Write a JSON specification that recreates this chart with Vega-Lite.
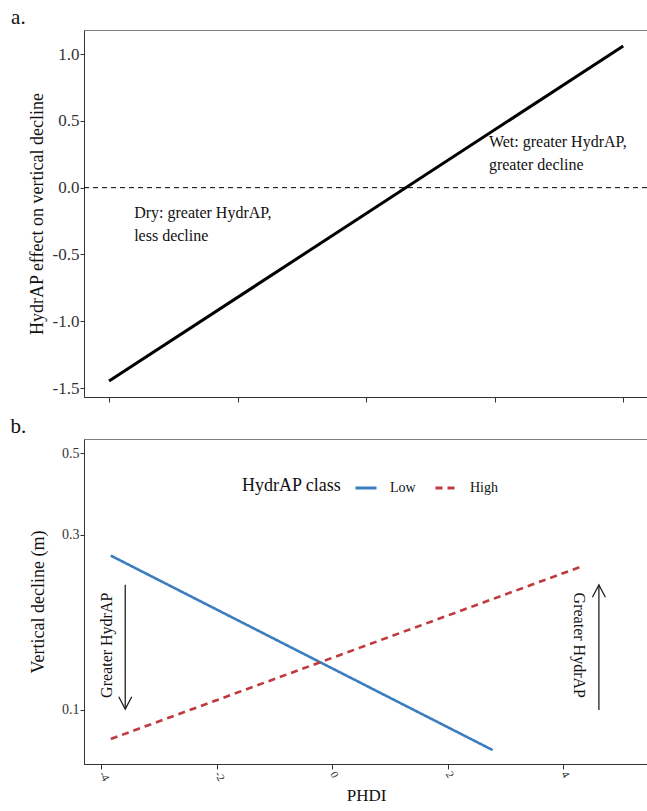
{
  "$schema": "https://vega.github.io/schema/vega-lite/v6.json",
  "padding": {"left": 10, "top": 6, "right": 0, "bottom": 0},
  "spacing": 12,
  "resolve": {"legend": {"color": "independent", "strokeDash": "independent"}},
  "config": {
    "font": "Liberation Serif",
    "view": {"stroke": "#7f7f7f", "strokeWidth": 1},
    "axis": {
      "grid": false,
      "domainColor": "#333333",
      "tickColor": "#333333",
      "labelColor": "#333333",
      "titleColor": "#111111",
      "labelFont": "Liberation Serif",
      "titleFont": "Liberation Serif",
      "titleFontWeight": "normal",
      "tickSize": 4,
      "labelPadding": 1
    },
    "legend": {
      "labelFont": "Liberation Serif",
      "titleFont": "Liberation Serif"
    }
  },
  "vconcat": [
    {
      "width": 563,
      "height": 367,
      "title": {"text": "a.", "anchor": "start", "frame": "bounds", "fontSize": 21, "fontWeight": "normal", "font": "Liberation Serif", "color": "#111111", "dx": -17, "offset": 2},
      "layer": [
        {
          "data": {"values": [{"PHDI": -4, "effect": -1.448}, {"PHDI": 4, "effect": 1.06}]},
          "mark": {"type": "line", "color": "#000000", "strokeWidth": 3},
          "encoding": {
            "x": {"field": "PHDI", "type": "quantitative", "scale": {"domain": [-4.39, 4.37], "nice": false, "zero": false},
                  "axis": {"values": [-4, -2, 0, 2, 4], "labels": false, "title": null, "tickSize": 5}},
            "y": {"field": "effect", "type": "quantitative", "scale": {"domain": [-1.567, 1.18], "nice": false, "zero": false},
                  "axis": {"values": [-1.5, -1.0, -0.5, 0.0, 0.5, 1.0], "labelExpr": "datum.value < 0 ? '-' + format(-datum.value, '.1f') : format(datum.value, '.1f')", "labelFont": "Liberation Serif", "labelFontSize": 17, "title": "HydrAP effect on vertical decline", "titleFont": "Liberation Serif", "titleFontSize": 18, "titlePadding": 6}}
          }
        },
        {
          "data": {"values": [{"zero": 0}]},
          "mark": {"type": "rule", "color": "#000000", "strokeWidth": 1, "strokeDash": [5, 4]},
          "encoding": {"y": {"field": "zero", "type": "quantitative"}}
        },
        {
          "data": {"values": [
            {"PHDI": 1.91, "effect": 0.403, "label": "Wet: greater HydrAP,\ngreater decline"},
            {"PHDI": -3.61, "effect": -0.127, "label": "Dry: greater HydrAP,\nless decline"}
          ]},
          "mark": {"type": "text", "align": "left", "baseline": "top", "fontSize": 16, "lineHeight": 23, "lineBreak": "\n", "font": "Liberation Serif", "color": "#111111"},
          "encoding": {
            "x": {"field": "PHDI", "type": "quantitative"},
            "y": {"field": "effect", "type": "quantitative"},
            "text": {"field": "label"}
          }
        }
      ]
    },
    {
      "width": 564,
      "height": 325,
      "title": {"text": "b.", "anchor": "start", "frame": "bounds", "fontSize": 21, "fontWeight": "normal", "font": "Liberation Serif", "color": "#111111", "dx": -19, "offset": 2},
      "layer": [
        {
          "data": {"values": [
            {"PHDI": -3.83, "decline": 0.263, "class": "Low"},
            {"PHDI": 2.78, "decline": 0.0778, "class": "Low"},
            {"PHDI": -3.83, "decline": 0.0834, "class": "High"},
            {"PHDI": 4.36, "decline": 0.247, "class": "High"}
          ]},
          "mark": {"type": "line", "strokeWidth": 2.6},
          "encoding": {
            "x": {"field": "PHDI", "type": "quantitative", "scale": {"domain": [-4.294, 5.47], "nice": false, "zero": false},
                  "axis": {"values": [-4, -2, 0, 2, 4], "labelExpr": "datum.value < 0 ? '-' + format(-datum.value, 'd') : format(datum.value, 'd')", "labelFont": "Liberation Serif", "labelAngle": 60, "labelFontSize": 11, "labelAlign": "left", "labelBaseline": "middle", "labelPadding": 3, "tickSize": 5, "title": "PHDI", "titleFont": "Liberation Serif", "titleFontSize": 17, "titlePadding": 5}},
            "y": {"field": "decline", "type": "quantitative", "scale": {"type": "log", "domain": [0.0713, 0.546], "nice": false},
                  "axis": {"values": [0.1, 0.3, 0.5], "format": ".1f", "labelFont": "Liberation Serif", "labelFontSize": 14, "title": "Vertical decline (m)", "titleFont": "Liberation Serif", "titleFontSize": 18, "titlePadding": 14}},
            "color": {"field": "class", "type": "nominal", "title": "HydrAP class",
                      "scale": {"domain": ["Low", "High"], "range": ["#3b7dbf", "#c0393f"]},
                      "legend": {"orient": "none", "legendX": 158, "legendY": 37, "direction": "horizontal", "titleOrient": "left", "titleFontSize": 18, "titleFontWeight": "normal", "titleColor": "#111111", "titlePadding": 12, "labelFontSize": 14, "labelColor": "#111111", "labelOffset": 12, "columnPadding": 13, "symbolType": "stroke", "symbolSize": 441, "symbolStrokeWidth": 3, "titleBaseline": "middle"}},
            "strokeDash": {"field": "class", "type": "nominal", "title": "HydrAP class",
                           "scale": {"domain": ["Low", "High"], "range": [[1, 0], [7, 5]]}}
          }
        },
        {
          "data": {"values": [
            {"PHDI": -3.58, "y1": 0.219, "y2": 0.1006},
            {"PHDI": 4.62, "y1": 0.1, "y2": 0.219}
          ]},
          "mark": {"type": "rule", "color": "#222222", "strokeWidth": 1.3},
          "encoding": {
            "x": {"field": "PHDI", "type": "quantitative"},
            "y": {"field": "y1", "type": "quantitative"},
            "y2": {"field": "y2"}
          }
        },
        {
          "data": {"values": [
            {"PHDI": -3.58, "tip": 0.1006, "dir": "down"},
            {"PHDI": 4.62, "tip": 0.219, "dir": "up"}
          ]},
          "mark": {"type": "point", "filled": false, "color": "#222222", "strokeWidth": 1.3, "size": 169, "opacity": 1},
          "encoding": {
            "x": {"field": "PHDI", "type": "quantitative"},
            "y": {"field": "tip", "type": "quantitative"},
            "shape": {"field": "dir", "type": "nominal", "scale": {"domain": ["down", "up"], "range": ["M-1,-1.9L0,0L1,-1.9", "M-1,1.9L0,0L1,1.9"]}, "legend": null}
          }
        },
        {
          "data": {"values": [{"PHDI": -3.9, "decline": 0.15, "label": "Greater HydrAP"}]},
          "mark": {"type": "text", "angle": 270, "align": "center", "baseline": "middle", "fontSize": 16, "font": "Liberation Serif", "color": "#111111"},
          "encoding": {
            "x": {"field": "PHDI", "type": "quantitative"},
            "y": {"field": "decline", "type": "quantitative"},
            "text": {"field": "label"}
          }
        },
        {
          "data": {"values": [{"PHDI": 4.28, "decline": 0.15, "label": "Greater HydrAP"}]},
          "mark": {"type": "text", "angle": 90, "align": "center", "baseline": "middle", "fontSize": 16, "font": "Liberation Serif", "color": "#111111"},
          "encoding": {
            "x": {"field": "PHDI", "type": "quantitative"},
            "y": {"field": "decline", "type": "quantitative"},
            "text": {"field": "label"}
          }
        }
      ]
    }
  ]
}
